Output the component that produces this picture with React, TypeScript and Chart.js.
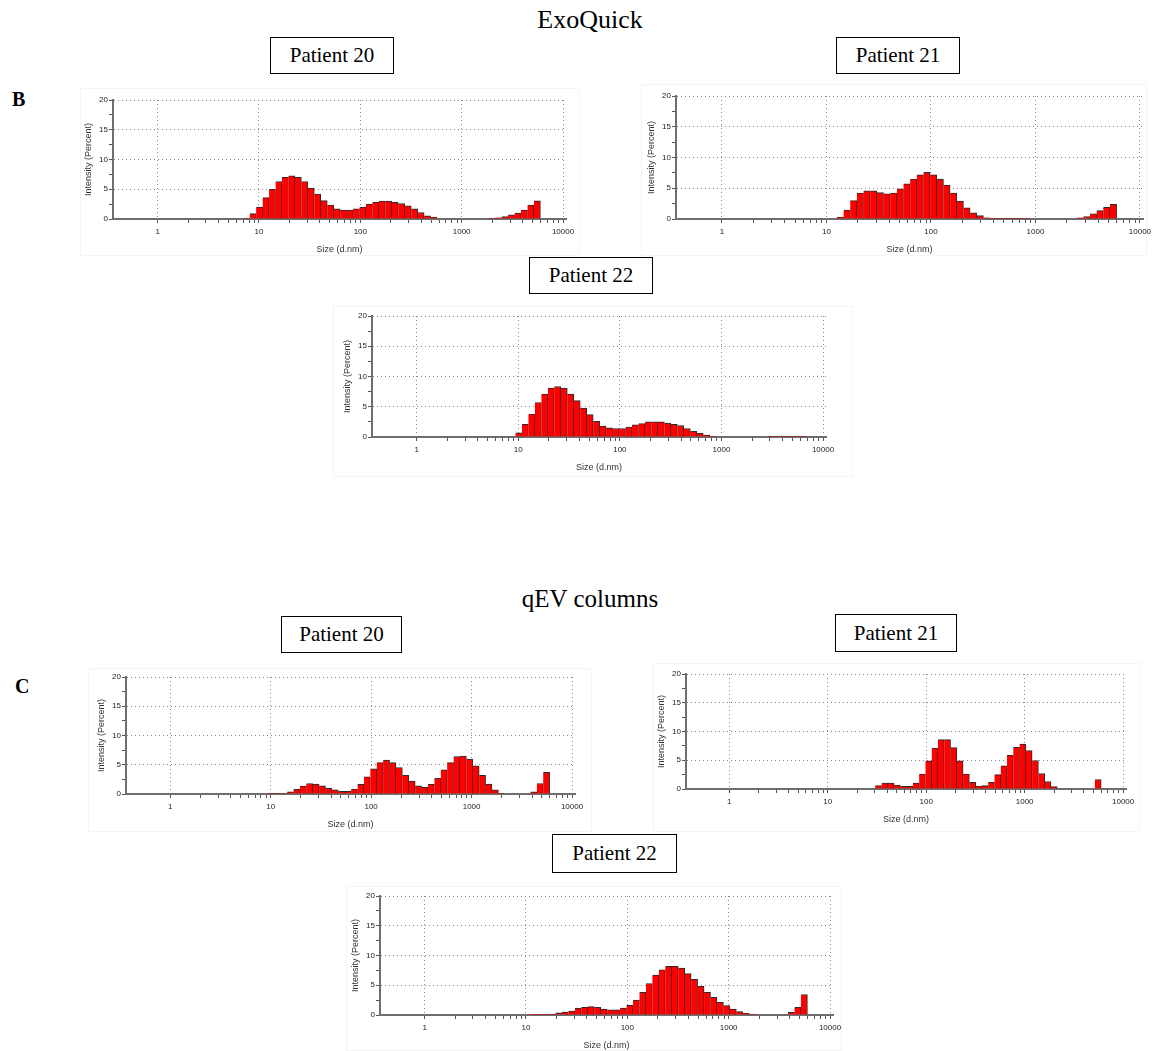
import React, { useEffect, useRef } from "react";
import { Chart, registerables } from "chart.js";

Chart.register(...registerables);

// Size classes (d.nm) of the 70 intensity bins
const sizeBins = [
  0.4, 0.4632, 0.5365, 0.6213, 0.7195, 0.8332, 0.9649, 1.117, 1.294, 1.499,
  1.736, 2.01, 2.328, 2.696, 3.122, 3.615, 4.187, 4.849, 5.615, 6.503,
  7.531, 8.721, 10.1, 11.7, 13.54, 15.69, 18.17, 21.04, 24.36, 28.21,
  32.67, 37.84, 43.82, 50.75, 58.77, 68.06, 78.82, 91.28, 105.7, 122.4,
  141.8, 164.2, 190.1, 220.2, 255.0, 295.3, 342.0, 396.1, 458.7, 531.2,
  615.1, 712.4, 825.0, 955.4, 1106, 1281, 1484, 1718, 1990, 2305,
  2669, 3091, 3580, 4145, 4801, 5560, 6439, 7456, 8635, 10000,
];

// Intensity (%) per bin
const exoQuickPatient20 = [
  0, 0, 0, 0, 0, 0, 0, 0, 0, 0,
  0, 0, 0, 0, 0, 0, 0, 0, 0, 0,
  0.1, 0.9, 2.0, 3.6, 5.0, 6.3, 7.0, 7.25, 7.0, 6.3,
  5.2, 4.2, 3.1, 2.35, 1.7, 1.5, 1.5, 1.7, 2.0, 2.5,
  2.8, 3.0, 3.0, 2.8, 2.6, 2.2, 1.7, 1.1, 0.55, 0.28,
  0, 0, 0, 0, 0, 0, 0, 0, 0.1, 0.2,
  0.4, 0.7, 1.0, 1.5, 2.35, 3.05, 0, 0, 0, 0,
];
const exoQuickPatient21 = [
  0, 0, 0, 0, 0, 0, 0, 0, 0, 0,
  0, 0, 0, 0, 0, 0, 0, 0, 0, 0,
  0, 0, 0, 0, 0.3, 1.46, 3.0, 4.2, 4.6, 4.6,
  4.3, 4.1, 4.2, 4.9, 5.7, 6.5, 7.2, 7.6, 7.2, 6.5,
  5.5, 4.2, 2.9, 1.8, 1.0, 0.55, 0.2, 0.1, 0.05, 0.05,
  0.05, 0.05, 0.05, 0, 0, 0, 0, 0, 0, 0,
  0.2, 0.4, 0.86, 1.35, 1.9, 2.4, 0, 0, 0, 0,
];
const exoQuickPatient22 = [
  0, 0, 0, 0, 0, 0, 0, 0, 0, 0,
  0, 0, 0, 0, 0, 0, 0, 0, 0, 0,
  0, 0, 0.7, 2.1, 3.8, 5.7, 7.1, 8.1, 8.35, 8.1,
  7.1, 6.0, 4.8, 3.7, 2.6, 1.8, 1.5, 1.4, 1.4, 1.65,
  2.0, 2.2, 2.5, 2.5, 2.5, 2.3, 2.1, 1.9, 1.4, 0.95,
  0.65, 0.33, 0.1, 0, 0, 0, 0, 0, 0, 0,
  0, 0.1, 0.15, 0.15, 0.15, 0.15, 0.1, 0, 0, 0,
];
const qevPatient20 = [
  0, 0, 0, 0, 0, 0, 0, 0, 0, 0,
  0, 0, 0, 0, 0, 0, 0, 0, 0, 0,
  0, 0, 0.05, 0.05, 0.1, 0.35, 0.8, 1.37, 1.8, 1.7,
  1.4, 0.95, 0.7, 0.45, 0.45, 0.85, 1.65, 2.95, 4.3, 5.35,
  5.8, 5.35, 4.5, 3.2, 2.2, 1.4, 1.15, 1.65, 2.7, 4.15,
  5.35, 6.4, 6.5, 5.95, 4.8, 3.2, 1.7, 0.7, 0.1, 0,
  0, 0, 0, 0.35, 1.8, 3.7, 0, 0, 0, 0,
];
const qevPatient21 = [
  0, 0, 0, 0, 0, 0, 0, 0, 0, 0,
  0, 0, 0, 0, 0, 0, 0, 0, 0, 0,
  0, 0, 0, 0, 0, 0, 0, 0, 0, 0,
  0.6, 1.05, 1.05, 0.7, 0.46, 0.46, 1.05, 2.6, 4.9, 7.1,
  8.6, 8.6, 7.2, 4.9, 2.6, 1.15, 0.5, 0.6, 1.15, 2.5,
  4.05, 5.85, 7.25, 7.8, 6.7, 4.95, 2.7, 1.3, 0.4, 0,
  0, 0, 0, 0, 0, 1.65, 0, 0, 0, 0,
];
const qevPatient22 = [
  0, 0, 0, 0, 0, 0, 0, 0, 0, 0,
  0, 0, 0, 0, 0, 0, 0, 0, 0, 0,
  0, 0, 0, 0.05, 0.05, 0.05, 0.05, 0.35, 0.5, 0.67,
  1.18, 1.3, 1.4, 1.3, 1.0, 0.85, 0.85, 1.18, 1.62, 2.52,
  3.8, 5.3, 6.7, 7.6, 8.2, 8.2, 7.9, 6.95, 6.0, 4.8,
  3.8, 2.97, 2.13, 1.57, 1.0, 0.56, 0.28, 0.1, 0, 0,
  0, 0, 0, 0.45, 1.3, 3.45, 0, 0, 0, 0,
];

// Axis ticks
const xTickValues = [
  1, 2, 3, 4, 5, 6, 7, 8, 9,
  10, 20, 30, 40, 50, 60, 70, 80, 90,
  100, 200, 300, 400, 500, 600, 700, 800, 900,
  1000, 2000, 3000, 4000, 5000, 6000, 7000, 8000, 9000,
  10000,
];
const xLabelledTicks = [1, 10, 100, 1000, 10000];
const yTickValues = [0, 2.5, 5, 7.5, 10, 12.5, 15, 17.5, 20];
const yLabelledTicks = [0, 5, 10, 15, 20];
const xAxisTitle = "Size (d.nm)";
const yAxisTitle = "Intensity (Percent)";
const X_MIN = 0.363;
const X_MAX = 10700;

const SANS = "'Liberation Sans', Arial, sans-serif";
const SERIF = "'Liberation Serif', 'Times New Roman', serif";

// Layout: plot rectangle [left, top, right, bottom] and faint frame
const panels = [
  { values: exoQuickPatient20, plot: [113, 100, 566, 219], frame: [80, 88, 580, 256] },
  { values: exoQuickPatient21, plot: [676, 96, 1143, 219], frame: [641, 84, 1147, 256] },
  { values: exoQuickPatient22, plot: [372, 316, 826, 437], frame: [333, 306, 853, 477] },
  { values: qevPatient20, plot: [126, 677, 575, 794], frame: [88, 668, 592, 832] },
  { values: qevPatient21, plot: [686, 674, 1126, 789], frame: [653, 663, 1140, 832] },
  { values: qevPatient22, plot: [380, 896, 833, 1015], frame: [346, 886, 842, 1051] },
];

const patientBoxes = [
  { text: "Patient 20", rect: [270, 37, 394, 74] },
  { text: "Patient 21", rect: [836, 37, 960, 74] },
  { text: "Patient 22", rect: [529, 257, 653, 294] },
  { text: "Patient 20", rect: [281, 616, 402, 653] },
  { text: "Patient 21", rect: [835, 614, 957, 652] },
  { text: "Patient 22", rect: [552, 834, 677, 873] },
];

const PAD_L = 4, Y_W = 30, PAD_T = 8, PAD_R = 20, X_H = 36, PAD_B = 4;

function SizePanel({ values, plot }: { values: number[]; plot: number[] }) {
  const ref = useRef<HTMLCanvasElement | null>(null);
  const [pl, pt, pr, pb] = plot;
  const left = pl - PAD_L - Y_W;
  const top = pt - PAD_T;
  const width = pr + PAD_R - left;
  const height = pb + X_H + PAD_B - top;

  useEffect(() => {
    if (!ref.current) return;
    const chart = new Chart(ref.current, {
      type: "bar",
      data: {
        labels: sizeBins,
        datasets: [
          {
            data: values,
            backgroundColor: "#ff0000",
            borderColor: "#2b2b2b",
            borderWidth: { top: 1, right: 1, bottom: 0, left: 0 } as any,
            borderSkipped: false,
            barPercentage: 1,
            categoryPercentage: 1,
            barThickness: "flex",
          },
        ],
      },
      options: {
        animation: false,
        responsive: false,
        maintainAspectRatio: false,
        devicePixelRatio: 1,
        events: [],
        layout: { padding: { left: PAD_L, top: PAD_T, right: PAD_R, bottom: PAD_B } },
        plugins: { legend: { display: false }, tooltip: { enabled: false } },
        scales: {
          x: {
            type: "logarithmic",
            min: X_MIN,
            max: X_MAX,
            bounds: "data",
            offset: false,
            afterBuildTicks: (s: any) => {
              s.ticks = xTickValues.map((v) => ({ value: v }));
            },
            afterFit: (s: any) => {
              s.height = X_H;
            },
            ticks: {
              autoSkip: false,
              maxRotation: 0,
              minRotation: 0,
              padding: 4,
              color: "#222",
              font: { family: SANS, size: 8 },
              callback: (v: any) => (xLabelledTicks.includes(Number(v)) ? String(v) : ""),
            },
            grid: {
              offset: false,
              color: (c: any) =>
                c.tick && xLabelledTicks.includes(c.tick.value) ? "#8a8a8a" : "rgba(0,0,0,0)",
              tickColor: "#555",
              tickLength: 4,
              lineWidth: 1,
            },
            border: { display: true, color: "#6e6e6e", width: 2, dash: [1, 3] },
            title: {
              display: true,
              text: xAxisTitle,
              padding: 0,
              color: "#333",
              font: { family: SANS, size: 9 },
            },
          },
          y: {
            type: "linear",
            min: 0,
            max: 20,
            afterBuildTicks: (s: any) => {
              s.ticks = yTickValues.map((v) => ({ value: v }));
            },
            afterFit: (s: any) => {
              s.width = Y_W;
            },
            ticks: {
              padding: 1,
              color: "#222",
              font: { family: SANS, size: 8 },
              callback: (v: any) => (yLabelledTicks.includes(Number(v)) ? String(v) : ""),
            },
            grid: {
              color: (c: any) =>
                c.tick && c.tick.value > 0 && yLabelledTicks.includes(c.tick.value)
                  ? "#8a8a8a"
                  : "rgba(0,0,0,0)",
              tickColor: "#555",
              tickLength: 4,
              lineWidth: 1,
            },
            border: { display: true, color: "#6e6e6e", width: 2, dash: [1, 3] },
            title: {
              display: true,
              text: yAxisTitle,
              padding: 0,
              color: "#333",
              font: { family: SANS, size: 9 },
            },
          },
        },
      } as any,
    });
    return () => chart.destroy();
  }, [values]);

  return (
    <canvas
      ref={ref}
      width={width}
      height={height}
      style={{ position: "absolute", left, top, width, height }}
    />
  );
}

export default function App() {
  return (
    <div
      style={{
        position: "absolute",
        left: 0,
        top: 0,
        width: 1160,
        height: 1051,
        overflow: "hidden",
        background: "#fff",
      }}
    >
      {panels.map((p, i) => (
        <div
          key={"f" + i}
          style={{
            position: "absolute",
            left: p.frame[0],
            top: p.frame[1],
            width: p.frame[2] - p.frame[0],
            height: p.frame[3] - p.frame[1],
            border: "1px solid #f5f5f5",
            boxSizing: "border-box",
          }}
        />
      ))}
      <div
        style={{
          position: "absolute",
          left: 0,
          width: 1180,
          top: 7,
          textAlign: "center",
          fontFamily: SERIF,
          fontSize: 26,
          lineHeight: "26px",
          color: "#000",
        }}
      >
        ExoQuick
      </div>
      <div
        style={{
          position: "absolute",
          left: 0,
          width: 1180,
          top: 586,
          textAlign: "center",
          fontFamily: SERIF,
          fontSize: 25,
          lineHeight: "25px",
          color: "#000",
        }}
      >
        qEV columns
      </div>
      <div
        style={{
          position: "absolute",
          left: 12,
          top: 89,
          fontFamily: SERIF,
          fontWeight: "bold",
          fontSize: 20,
          lineHeight: "20px",
        }}
      >
        B
      </div>
      <div
        style={{
          position: "absolute",
          left: 15,
          top: 676,
          fontFamily: SERIF,
          fontWeight: "bold",
          fontSize: 20,
          lineHeight: "20px",
        }}
      >
        C
      </div>
      {patientBoxes.map((b, i) => (
        <div
          key={"b" + i}
          style={{
            position: "absolute",
            left: b.rect[0],
            top: b.rect[1],
            width: b.rect[2] - b.rect[0],
            height: b.rect[3] - b.rect[1],
            border: "1px solid #000",
            boxSizing: "border-box",
            display: "flex",
            alignItems: "center",
            justifyContent: "center",
            fontFamily: SERIF,
            fontSize: 21,
            color: "#000",
            background: "#fff",
          }}
        >
          {b.text}
        </div>
      ))}
      {panels.map((p, i) => (
        <SizePanel key={"c" + i} values={p.values} plot={p.plot} />
      ))}
    </div>
  );
}
